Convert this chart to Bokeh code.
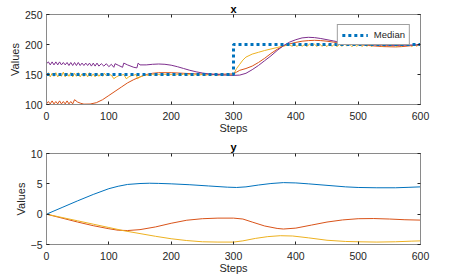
from bokeh.plotting import figure
from bokeh.models import LinearAxis, FixedTicker, Range1d
from bokeh.layouts import column
from bokeh.embed import file_html
from bokeh.resources import INLINE

# ---------------- data: top panel "x" ----------------
median_steps = [0, 300, 300, 600]
median_vals = [150, 150, 200, 200]

x_orange_steps = [0, 3, 6, 9, 12, 15, 18, 21, 24, 27, 30, 33, 36, 39, 42, 45, 50, 55, 60, 70, 80, 90,
                  100, 110, 120, 130, 140, 150, 160, 170, 180, 200, 220, 240, 260, 280, 300, 305, 310,
                  320, 330, 340, 350, 360, 370, 380, 390, 400, 410, 420, 430, 440, 450, 460, 470, 480,
                  490, 500, 510, 520, 540, 560, 570, 580, 590, 600]
x_orange_vals = [101, 105, 101, 106, 101, 105, 101, 106, 101, 105, 101, 106, 101, 105, 101, 108, 104, 102,
                 100.6, 100.8, 103, 108, 115, 122, 129, 136, 141.5, 146, 150, 152, 153, 153, 152, 151,
                 150.5, 150.5, 151, 154, 157, 160, 164, 170, 177, 185, 192, 197.5, 201, 203.5, 205.5,
                 206.5, 207, 206.5, 205.5, 204, 203, 202, 201, 200, 199, 198, 196.5, 196, 196.5, 197.5,
                 198.5, 199.5]

x_purple_steps = [0, 3, 6, 9, 12, 15, 18, 21, 24, 27, 30, 33, 36, 39, 42, 45, 48, 51, 54, 57, 60, 63, 66,
                  69, 72, 75, 78, 81, 84, 88, 92, 96, 100, 104, 108, 110, 116, 122, 124, 130, 140, 145,
                  147, 150, 160, 170, 180, 190, 200, 210, 220, 230, 240, 250, 260, 270, 280, 290, 300,
                  310, 320, 330, 340, 350, 360, 370, 380, 390, 400, 410, 420, 430, 440, 450, 460, 470,
                  480, 490, 500, 520, 540, 560, 580, 600]
x_purple_vals = [168, 171, 166, 171, 166, 171, 166, 171, 166, 170, 166, 170, 165, 170, 165, 170, 165, 170,
                 165, 169, 165, 169, 165, 169, 164, 169, 164, 169, 164, 168, 164, 168, 163, 167, 162,
                 168, 165, 162, 169, 166, 162, 161, 169, 166, 166, 167, 167.5, 167, 165.5, 163, 160,
                 157, 154.5, 152.5, 151, 150, 149.5, 149, 148.5, 149, 152, 158, 165, 173, 181, 190,
                 198, 204, 208, 211, 212, 211.5, 210, 208, 206, 204, 202, 201, 200, 199.5, 199, 198.5,
                 199, 199.5]

x_yellow_steps = [0, 3, 6, 9, 12, 15, 18, 21, 24, 27, 30, 33, 36, 39, 42, 45, 48, 51, 54, 57, 60, 63, 66,
                  69, 72, 75, 78, 81, 84, 87, 90, 93, 96, 100, 104, 108, 112, 116, 120, 124, 128, 132,
                  136, 140, 144, 146, 150, 155, 160, 165, 170, 175, 180, 185, 190, 195, 200, 205, 210,
                  215, 220, 225, 230, 235, 240, 245, 250, 255, 260, 265, 270, 275, 280, 285, 290, 295,
                  300, 305, 310, 315, 320, 330, 340, 350, 360, 370, 380, 390,
                  394, 398, 402, 406, 410, 414, 418, 422, 426, 430, 434, 438, 442, 446, 450, 454, 458,
                  462, 466, 470, 474, 478, 482, 486, 490, 494, 498, 502, 506, 510, 514, 518, 522, 526,
                  530, 534, 538, 542, 546, 550, 554, 558, 562, 566, 570, 574, 578, 582, 586, 590, 594,
                  598, 600]
x_yellow_vals = [150, 153, 146, 152, 147, 153, 146, 151, 147, 154, 146, 152, 147, 153, 146, 152, 147, 153,
                 146, 151, 147, 152, 146, 153, 147, 151, 146, 152, 147, 151, 147, 152, 148, 150, 149,
                 143, 146, 148, 149, 150, 143, 146, 148, 149, 150, 143, 146, 148, 149, 148.5, 150, 149,
                 150, 149, 150.5, 149, 150, 148.5, 150, 149, 150.5, 149, 150, 148.5, 150, 149, 150,
                 148.5, 150, 149, 150, 148.5, 150, 149, 150, 149, 150, 160, 167, 174, 179, 184, 187,
                 190, 192.5, 195, 197.5, 199.5,
                 197, 200.5, 196.5, 201, 197, 200, 196.5, 201, 197.5, 200.5, 196.5, 201, 197, 200,
                 196.5, 201, 197, 200.5, 196.5, 200, 197, 201, 197.5, 200.5, 196.5, 200, 197, 201,
                 196.5, 200.5, 197, 200, 196.5, 201, 197.5, 200.5, 196.5, 200, 197, 201, 197, 200.5,
                 196.5, 200, 197, 201, 197.5, 200.5, 196.5, 200, 197, 200.5, 198]

# ---------------- data: bottom panel "y" ----------------
y_blue_steps = [0, 25, 50, 75, 100, 115, 130, 150, 165, 180, 200, 230, 260, 290, 305, 320, 340, 360,
                380, 400, 420, 450, 480, 500, 530, 560, 580, 600]
y_blue_vals = [0, 1.1, 2.2, 3.25, 4.2, 4.6, 4.9, 5.05, 5.1, 5.07, 5.0, 4.85, 4.65, 4.45, 4.4, 4.5, 4.8,
               5.05, 5.2, 5.15, 5.0, 4.75, 4.5, 4.4, 4.35, 4.35, 4.42, 4.5]

y_orange_steps = [0, 25, 50, 75, 100, 115, 130, 150, 175, 200, 225, 250, 275, 300, 315, 330, 350, 370,
                  380, 400, 425, 450, 475, 500, 525, 550, 575, 600]
y_orange_vals = [0, -0.65, -1.3, -1.9, -2.4, -2.65, -2.7, -2.55, -2.1, -1.5, -1.0, -0.75, -0.65, -0.65,
                 -0.8, -1.3, -1.95, -2.35, -2.45, -2.3, -1.8, -1.3, -0.95, -0.75, -0.72, -0.8, -0.92,
                 -0.98]

y_yellow_steps = [0, 25, 50, 75, 100, 125, 150, 175, 200, 225, 250, 275, 300, 315, 335, 355, 375, 395,
                  420, 450, 480, 500, 530, 560, 585, 600]
y_yellow_vals = [0, -0.55, -1.1, -1.65, -2.2, -2.75, -3.2, -3.65, -4.05, -4.35, -4.55, -4.6, -4.6, -4.4,
                 -4.0, -3.7, -3.55, -3.6, -3.9, -4.3, -4.5, -4.55, -4.6, -4.55, -4.45, -4.4]

x_ticks = [0, 100, 200, 300, 400, 500, 600]
top_y_ticks = [100, 150, 200, 250]
bot_y_ticks = [-5, 0, 5, 10]

BLUE = "#0072BD"
ORANGE = "#D95319"
YELLOW = "#EDB120"
PURPLE = "#7E2F8E"
FONT = "Liberation Sans"
TXT = "#262626"
BOX = "#8a8a8a"


def style(p, yticks, title_standoff):
    p.title.text_font = FONT
    p.title.text_font_size = "11px"
    p.title.text_font_style = "bold"
    p.title.text_color = "#000000"
    p.title.align = "center"
    p.title.standoff = title_standoff
    p.xaxis.ticker = FixedTicker(ticks=x_ticks)
    p.yaxis.ticker = FixedTicker(ticks=yticks)
    p.xgrid.visible = False
    p.ygrid.visible = False
    p.outline_line_color = BOX
    for ax in p.xaxis + p.yaxis:
        ax.axis_line_color = BOX
        ax.major_tick_line_color = TXT
        ax.major_tick_in = 3
        ax.major_tick_out = 0
        ax.minor_tick_line_color = None
        ax.major_label_text_font = FONT
        ax.major_label_text_font_size = "10.5px"
        ax.major_label_text_color = TXT
        ax.axis_label_text_font = FONT
        ax.axis_label_text_font_size = "11px"
        ax.axis_label_text_font_style = "normal"
        ax.axis_label_text_color = TXT
    p.xaxis.major_label_standoff = 7
    p.yaxis.major_label_standoff = 4
    p.xaxis.axis_label_standoff = -1
    p.yaxis.axis_label_standoff = 1
    p.xaxis.axis_label = "Steps"
    p.yaxis.axis_label = "Values"
    # box ticks on top and right (no labels)
    top = LinearAxis(ticker=FixedTicker(ticks=x_ticks))
    right = LinearAxis(ticker=FixedTicker(ticks=yticks))
    for ax in (top, right):
        ax.axis_line_color = BOX
        ax.major_tick_line_color = TXT
        ax.major_tick_in = 3
        ax.major_tick_out = 0
        ax.minor_tick_line_color = None
        ax.major_label_text_color = None
        ax.major_label_text_font_size = "1px"
        ax.major_label_standoff = 0
    p.add_layout(top, "above")
    p.add_layout(right, "right")


# ---------------- top figure ----------------
p1 = figure(width=449, height=136, output_backend="svg", toolbar_location=None, title="x",
            x_range=Range1d(0, 600), y_range=Range1d(100, 250),
            min_border_left=46, min_border_right=29, min_border_top=12, min_border_bottom=32)
p1.line(x_orange_steps, x_orange_vals, color=ORANGE, line_width=1)
p1.line(x_yellow_steps, x_yellow_vals, color=YELLOW, line_width=1)
p1.line(x_purple_steps, x_purple_vals, color=PURPLE, line_width=1)
p1.line(median_steps, median_vals, color=BLUE, line_width=3, line_dash="3 3",
        legend_label="Median")
style(p1, top_y_ticks, 0)
p1.legend.location = "top_right"
p1.legend.margin = 10
p1.legend.padding = 4
p1.legend.spacing = 0
p1.legend.glyph_width = 26
p1.legend.glyph_height = 10
p1.legend.label_height = 10
p1.legend.label_standoff = 6
p1.legend.label_text_font = FONT
p1.legend.label_text_font_size = "9.5px"
p1.legend.label_text_color = TXT
p1.legend.border_line_color = "#404040"
p1.legend.border_line_width = 1
p1.legend.background_fill_alpha = 1

# ---------------- bottom figure ----------------
p2 = figure(width=449, height=140, output_backend="svg", toolbar_location=None, title="y",
            x_range=Range1d(0, 600), y_range=Range1d(-5, 10),
            min_border_left=46, min_border_right=29, min_border_top=17, min_border_bottom=32)
p2.line(y_blue_steps, y_blue_vals, color=BLUE, line_width=1)
p2.line(y_orange_steps, y_orange_vals, color=ORANGE, line_width=1)
p2.line(y_yellow_steps, y_yellow_vals, color=YELLOW, line_width=1)
style(p2, bot_y_ticks, 2)

layout = column(p1, p2, spacing=0)
open("out.html", "w").write(file_html(layout, INLINE))
